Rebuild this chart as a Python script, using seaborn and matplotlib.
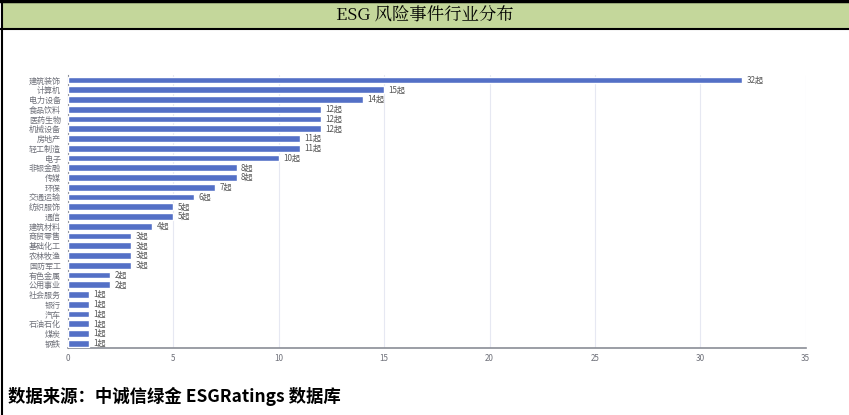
import matplotlib.pyplot as plt
import seaborn as sns
import pandas as pd
from matplotlib.patches import Rectangle
from matplotlib.lines import Line2D

industries = ['建筑装饰', '计算机', '电力设备', '食品饮料', '医药生物', '机械设备', '房地产',
              '轻工制造', '电子', '非银金融', '传媒', '环保', '交通运输', '纺织服饰', '通信',
              '建筑材料', '商贸零售', '基础化工', '农林牧渔', '国防军工', '有色金属', '公用事业',
              '社会服务', '银行', '汽车', '石油石化', '煤炭', '钢铁']
counts = [32, 15, 14, 12, 12, 12, 11, 11, 10, 8, 8, 7, 6, 5, 5, 4, 3, 3, 3, 3, 2, 2,
          1, 1, 1, 1, 1, 1]
x_ticks = [0, 5, 10, 15, 20, 25, 30, 35]

sns.set_style('white')
plt.rcParams['font.family'] = ['Noto Sans CJK SC', 'DejaVu Sans']

df = pd.DataFrame({'industry': industries, 'count': counts})

fig = plt.figure(figsize=(8.49, 4.15), dpi=100)
ax = fig.add_axes([0.080, 0.161, 0.869, 0.658])

sns.barplot(data=df, x='count', y='industry', color='#5470c6', width=0.68,
            saturation=1, ax=ax, zorder=3)

ax.set_xlim(0, 35)
ax.set_xticks(x_ticks)
ax.set_xticklabels([str(t) for t in x_ticks])
ax.set_xlabel('')
ax.set_ylabel('')
ax.grid(axis='x', color='#e6e8f2', linewidth=0.8, zorder=0)
for s in ['top', 'right']:
    ax.spines[s].set_visible(False)
ax.spines['left'].set_color('#8a8d96')
ax.spines['left'].set_linewidth(0.8)
ax.spines['bottom'].set_color('#8a8d96')
ax.spines['bottom'].set_linewidth(1.2)
ax.tick_params(axis='y', length=3, width=0.6, color='#8a8d96', labelsize=5.8,
               labelcolor='#6e7079', pad=2)
ax.tick_params(axis='x', length=0, labelsize=5.8, labelcolor='#6e7079', pad=4)

for i, v in enumerate(counts):
    ax.text(v + 0.2, i, f'{v}起', va='center', ha='left', fontsize=5.8, color='#555555')

# header band
fig.patches.append(Rectangle((0.002, 0.930), 0.998, 0.066, transform=fig.transFigure,
                             facecolor='#c4d79b', edgecolor='none', zorder=0))
fig.lines.append(Line2D([0, 1], [0.997, 0.997], transform=fig.transFigure, color='black', lw=2.5))
fig.lines.append(Line2D([0, 1], [0.929, 0.929], transform=fig.transFigure, color='black', lw=1.5))
fig.lines.append(Line2D([0.002, 0.002], [0, 1], transform=fig.transFigure, color='black', lw=1.5))
fig.text(0.5, 0.962, 'ESG 风险事件行业分布', ha='center', va='center', fontsize=12.5,
         family=['Noto Serif CJK SC', 'Noto Sans CJK SC', 'DejaVu Serif'], color='black')

fig.text(0.010, 0.045, '数据来源：中诚信绿金 ESGRatings 数据库', ha='left', va='center',
         fontsize=12.5, fontweight='bold', style='italic', color='black')

fig.savefig('out.png', dpi=100)
